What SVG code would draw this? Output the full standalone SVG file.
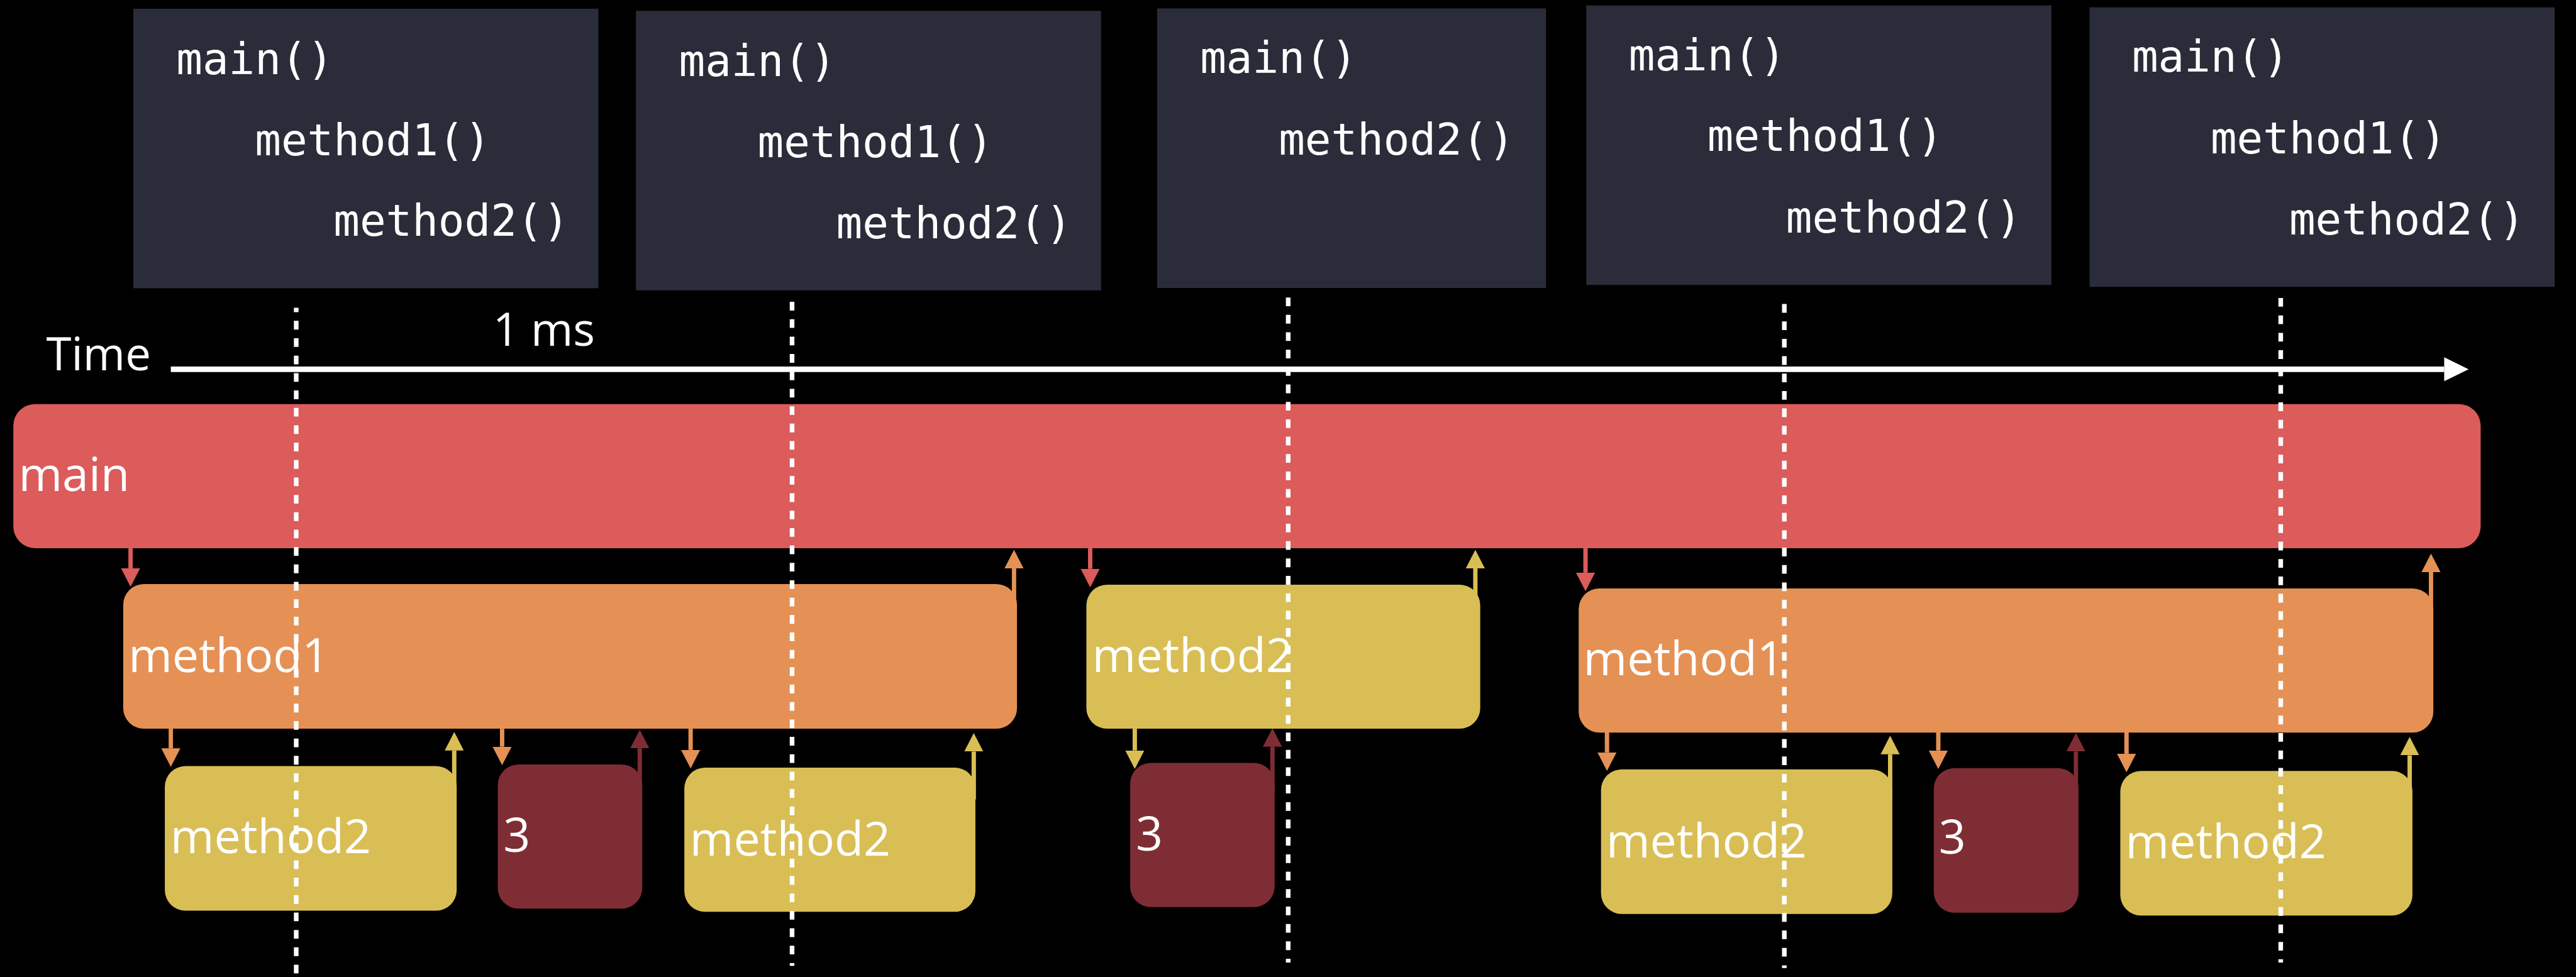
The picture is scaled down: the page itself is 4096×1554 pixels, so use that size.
<svg xmlns="http://www.w3.org/2000/svg" width="4096" height="1554" viewBox="0 0 4096 1554">
<defs>
<style>
.code{fill:#2a2c39}
.ct{font-family:"DejaVu Sans Mono","Liberation Mono",monospace;font-size:80px;fill:#ffffff}
.lbl{font-family:"Open Sans","Noto Sans","Liberation Sans",sans-serif;font-size:87px;fill:#ffffff}
.axl{font-family:"Open Sans","Noto Sans","Liberation Sans",sans-serif;font-size:84px;fill:#ffffff}
.main{fill:#dc5b5b}
.m1{fill:#e59155}
.m2{fill:#d9be55}
.m3{fill:#7f2d34}
.cr{stroke:#dc5b5b;stroke-width:8;fill:none}
.co{stroke:#e59155;stroke-width:8;fill:none}
.cy{stroke:#d9be55;stroke-width:8;fill:none}
.cd{stroke:#7f2d34;stroke-width:8;fill:none}
.dash{stroke:#ffffff;stroke-width:8.5;stroke-dasharray:16 16;fill:none}
</style>
<marker id="hr" viewBox="0 0 34 35" refX="0" refY="17.5" markerWidth="34" markerHeight="35" markerUnits="userSpaceOnUse" orient="auto"><path d="M0,0 L34,17.5 L0,35 z" fill="#dc5b5b"/></marker>
<marker id="ho" viewBox="0 0 34 35" refX="0" refY="17.5" markerWidth="34" markerHeight="35" markerUnits="userSpaceOnUse" orient="auto"><path d="M0,0 L34,17.5 L0,35 z" fill="#e59155"/></marker>
<marker id="hy" viewBox="0 0 34 35" refX="0" refY="17.5" markerWidth="34" markerHeight="35" markerUnits="userSpaceOnUse" orient="auto"><path d="M0,0 L34,17.5 L0,35 z" fill="#d9be55"/></marker>
<marker id="hd" viewBox="0 0 34 35" refX="0" refY="17.5" markerWidth="34" markerHeight="35" markerUnits="userSpaceOnUse" orient="auto"><path d="M0,0 L34,17.5 L0,35 z" fill="#7f2d34"/></marker>
<marker id="hw" viewBox="0 0 45 44" refX="0" refY="22" markerWidth="45" markerHeight="44" markerUnits="userSpaceOnUse" orient="auto"><path d="M0,0 L45,22 L0,44 z" fill="#ffffff"/></marker>
</defs>
<rect x="0" y="0" width="4096" height="1554" fill="#000000"/>
<g transform="scale(0.865)">

<g id="code1">
<rect class="code" x="245" y="16" width="855" height="514"/>
<text class="ct" x="324" y="136">main()</text>
<text class="ct" x="468.5" y="285">method1()</text>
<text class="ct" x="613" y="434">method2()</text>
</g>
<g id="code2">
<rect class="code" x="1169" y="20" width="855" height="514"/>
<text class="ct" x="1248" y="140">main()</text>
<text class="ct" x="1392.5" y="289">method1()</text>
<text class="ct" x="1537" y="438">method2()</text>
</g>
<g id="code3">
<rect class="code" x="2127" y="15.5" width="715" height="514"/>
<text class="ct" x="2206" y="134">main()</text>
<text class="ct" x="2350.5" y="284">method2()</text>
</g>
<g id="code4">
<rect class="code" x="2916" y="10" width="855" height="514"/>
<text class="ct" x="2994" y="129">main()</text>
<text class="ct" x="3138.5" y="278">method1()</text>
<text class="ct" x="3283" y="428">method2()</text>
</g>
<g id="code5">
<rect class="code" x="3841" y="13.5" width="855" height="514"/>
<text class="ct" x="3919" y="132">main()</text>
<text class="ct" x="4063.5" y="282">method1()</text>
<text class="ct" x="4208" y="431">method2()</text>
</g>

<g id="time-axis">
<text class="axl" x="85" y="681">Time</text>
<text class="axl" x="906" y="636">1 ms</text>
<line x1="314" y1="679" x2="4493" y2="679" stroke="#ffffff" stroke-width="10" marker-end="url(#hw)"/>
</g>

<g id="connectors">
<line class="cr" x1="240" y1="1008" x2="240" y2="1045" marker-end="url(#hr)"/>
<line class="co" x1="314" y1="1340" x2="314" y2="1376" marker-end="url(#ho)"/>
<line class="co" x1="923" y1="1340" x2="923" y2="1373" marker-end="url(#ho)"/>
<line class="co" x1="1269.5" y1="1340" x2="1269.5" y2="1379" marker-end="url(#ho)"/>
<line class="cr" x1="2004" y1="1008" x2="2004" y2="1046" marker-end="url(#hr)"/>
<line class="cy" x1="2086" y1="1340" x2="2086" y2="1380" marker-end="url(#hy)"/>
<line class="cr" x1="2914.5" y1="1008" x2="2914.5" y2="1053" marker-end="url(#hr)"/>
<line class="co" x1="2954" y1="1346" x2="2954" y2="1383.5" marker-end="url(#ho)"/>
<line class="co" x1="3563" y1="1346" x2="3563" y2="1380" marker-end="url(#ho)"/>
<line class="co" x1="3909" y1="1346" x2="3909" y2="1386" marker-end="url(#ho)"/>
<line class="cy" x1="835" y1="1470" x2="835" y2="1380" marker-end="url(#hy)"/>
<line class="cd" x1="1176" y1="1466" x2="1176" y2="1376" marker-end="url(#hd)"/>
<line class="cy" x1="1790" y1="1470" x2="1790" y2="1382" marker-end="url(#hy)"/>
<line class="co" x1="1864" y1="1130" x2="1864" y2="1045" marker-end="url(#ho)"/>
<line class="cd" x1="2339" y1="1460" x2="2339" y2="1373" marker-end="url(#hd)"/>
<line class="cy" x1="2712" y1="1130" x2="2712" y2="1045" marker-end="url(#hy)"/>
<line class="cy" x1="3474.5" y1="1470" x2="3474.5" y2="1387" marker-end="url(#hy)"/>
<line class="cd" x1="3816" y1="1470" x2="3816" y2="1382" marker-end="url(#hd)"/>
<line class="cy" x1="4429.5" y1="1470" x2="4429.5" y2="1389" marker-end="url(#hy)"/>
<line class="co" x1="4468.7" y1="1140" x2="4468.7" y2="1052" marker-end="url(#ho)"/>
</g>

<g id="main">
<rect class="main" x="24.5" y="743" width="4535.5" height="265" rx="40"/>
<text class="lbl" x="34" y="903">main</text>
</g>
<g id="method1-a">
<rect class="m1" x="226.5" y="1074" width="1643" height="266" rx="38"/>
<text class="lbl" x="236" y="1236">method1</text>
</g>
<g id="method2-a">
<rect class="m2" x="303" y="1408.6" width="536.5" height="266" rx="38"/>
<text class="lbl" x="313" y="1569">method2</text>
</g>
<g id="m3-a">
<rect class="m3" x="915" y="1405.8" width="265.6" height="265" rx="38"/>
<text class="lbl" x="925" y="1566">3</text>
</g>
<g id="method2-b">
<rect class="m2" x="1258" y="1411.7" width="535" height="265" rx="38"/>
<text class="lbl" x="1268" y="1573">method2</text>
</g>
<g id="method2-c">
<rect class="m2" x="1997" y="1075" width="724" height="265" rx="38"/>
<text class="lbl" x="2007.5" y="1236">method2</text>
</g>
<g id="m3-b">
<rect class="m3" x="2077.5" y="1403" width="265.5" height="265" rx="38"/>
<text class="lbl" x="2088" y="1564">3</text>
</g>
<g id="method1-b">
<rect class="m1" x="2902" y="1082" width="1571" height="265" rx="38"/>
<text class="lbl" x="2910.5" y="1242">method1</text>
</g>
<g id="method2-d">
<rect class="m2" x="2943" y="1414.6" width="535.5" height="266" rx="38"/>
<text class="lbl" x="2952.5" y="1577">method2</text>
</g>
<g id="m3-c">
<rect class="m3" x="3554.7" y="1412.4" width="266" height="266" rx="38"/>
<text class="lbl" x="3564" y="1570">3</text>
</g>
<g id="method2-e">
<rect class="m2" x="3897.6" y="1417.5" width="537" height="266" rx="38"/>
<text class="lbl" x="3907" y="1578">method2</text>
</g>

<g id="time-marks">
<line class="dash" x1="544.5" y1="566" x2="544.5" y2="1790" stroke-dashoffset="8"/>
<line class="dash" x1="1456" y1="555" x2="1456" y2="1776"/>
<line class="dash" x1="2368" y1="547" x2="2368" y2="1770"/>
<line class="dash" x1="3280" y1="559" x2="3280" y2="1780"/>
<line class="dash" x1="4192.5" y1="548" x2="4192.5" y2="1770"/>
</g>
</g>
</svg>
